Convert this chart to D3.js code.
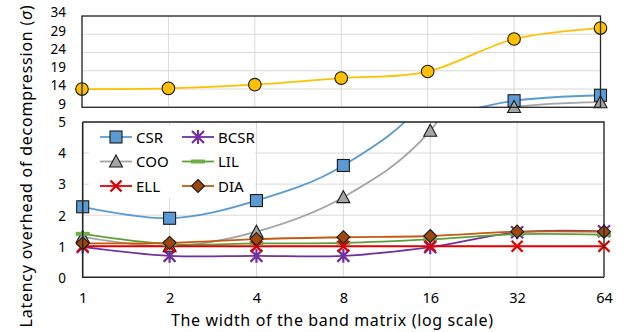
<!DOCTYPE html>
<html>
<head>
<meta charset="utf-8">
<script src="https://cdn.jsdelivr.net/npm/d3@7"></script>
<style>
  body { margin: 0; background: #fff; }
  svg { display: block; font-family: 'Noto Sans', sans-serif; }
</style>
</head>
<body>
<svg id="chart" width="629" height="332"></svg>
<script>
// MARK: data

const widths = [1, 2, 4, 8, 16, 32, 64]
const csr    = [2.27, 1.9, 2.47, 3.6, 5.9, 10.8, 12.3]
const bcsr   = [0.98, 0.69, 0.69, 0.69, 0.97, 1.45, 1.48]
const coo    = [1.3, 1.0, 1.47, 2.58, 4.72, 9.1, 10.4]
const lil    = [1.4, 1.07, 1.09, 1.11, 1.22, 1.39, 1.37]
const ell    = [1.0, 1.0, 1.0, 1.0, 1.0, 1.0, 1.0]
const dia    = [1.09, 1.11, 1.23, 1.29, 1.33, 1.47, 1.47]
const upper  = [14.0, 14.2, 15.2, 17.0, 18.8, 27.7, 30.7]   // yellow series, no legend entry

const topTicks    = [9, 14, 19, 24, 29, 34]
const bottomTicks = [0, 1, 2, 3, 4, 5]

const series = [
  { name: 'CSR',  values: csr,   color: '#5B9BD5', marker: 'square'   },
  { name: 'BCSR', values: bcsr,  color: '#7030A0', marker: 'asterisk' },
  { name: 'COO',  values: coo,   color: '#A5A5A5', marker: 'triangle' },
  { name: 'LIL',  values: lil,   color: '#5E9E3A', marker: 'dash'     },
  { name: 'ELL',  values: ell,   color: '#E00000', marker: 'cross'    },
  { name: 'DIA',  values: dia,   color: '#C55A11', marker: 'diamond'  },
  { name: null,   values: upper, color: '#FFC000', marker: 'circle'   },
]

const svg = d3.select('#chart')
const GRID = '#D9D9D9'
const FRAME = '#262626'

// draws one marker centred on (0,0) into g
function drawMarker(g, s) {
  const stroke = '#1a1a1a'
  switch (s.marker) {
    case 'square':
      g.append('rect').attr('x', -6).attr('y', -6).attr('width', 12).attr('height', 12)
        .attr('fill', s.color).attr('stroke', stroke).attr('stroke-width', 1.1)
      break
    case 'triangle':
      g.append('path').attr('d', 'M0,-6.5 L6.5,5.5 L-6.5,5.5 Z')
        .attr('fill', s.color).attr('stroke', stroke).attr('stroke-width', 1.1)
      break
    case 'circle':
      g.append('circle').attr('r', 6.3)
        .attr('fill', s.color).attr('stroke', stroke).attr('stroke-width', 1.1)
      break
    case 'diamond':
      g.append('path').attr('d', 'M0,-6.5 L6.5,0 L0,6.5 L-6.5,0 Z')
        .attr('fill', '#9E480E').attr('stroke', stroke).attr('stroke-width', 1.1)
      break
    case 'dash':
      g.append('rect').attr('x', -7).attr('y', -2).attr('width', 14).attr('height', 4)
        .attr('fill', '#70AD47')
      break
    case 'cross':
      g.append('path').attr('d', 'M-5.5,-5.5 L5.5,5.5 M5.5,-5.5 L-5.5,5.5')
        .attr('stroke', s.color).attr('stroke-width', 2.4).attr('fill', 'none')
      break
    case 'asterisk':
      g.append('path').attr('d', 'M-6,-6 L6,6 M6,-6 L-6,6 M0,-7 L0,7')
        .attr('stroke', s.color).attr('stroke-width', 2.2).attr('fill', 'none')
      break
  }
}

// MARK: one panel of the broken axis
function panel(id, xRange, yDomain, yRange, ticks, labelShift) {
  const x = d3.scalePoint().domain(widths).range(xRange)
  const y = d3.scaleLinear().domain(yDomain).range(yRange)
  const g = svg.append('g')

  svg.append('clipPath').attr('id', id)
    .append('rect')
    .attr('x', xRange[0]).attr('y', yRange[1])
    .attr('width', xRange[1] - xRange[0]).attr('height', yRange[0] - yRange[1])

  // grid
  g.selectAll('.hgrid').data(ticks).enter().append('line')
    .attr('x1', xRange[0]).attr('x2', xRange[1])
    .attr('y1', (d) => y(d)).attr('y2', (d) => y(d))
    .attr('stroke', GRID).attr('stroke-width', 1)
  g.selectAll('.vgrid').data(widths).enter().append('line')
    .attr('x1', (d) => x(d)).attr('x2', (d) => x(d))
    .attr('y1', yRange[0]).attr('y2', yRange[1])
    .attr('stroke', GRID).attr('stroke-width', 1)

  // y axis labels
  const axis = d3.axisLeft(y).tickValues(ticks).tickSize(0).tickPadding(0).tickFormat(d3.format('d'))
  const ax = g.append('g').attr('transform', `translate(66,${labelShift})`).call(axis)
  ax.select('.domain').remove()
  ax.selectAll('text').attr('font-size', 13.5).attr('fill', '#000')
    .attr('font-family', "'Noto Sans', sans-serif")

  return { x, y, g, id }
}

const top_    = panel('clipTop', [82, 600.5], [9, 34], [107.3, 16], topTicks, -3.5)
const bottom_ = panel('clipBottom', [82.7, 604], [0, 5], [277.3, 122], bottomTicks, 0.5)

// legend background sits under the series but above the grid
bottom_.g.append('rect')
  .attr('x', 89).attr('y', 126).attr('width', 166).attr('height', 72).attr('fill', '#fff')

for (const p of [top_, bottom_]) {
  const [lo, hi] = p.y.domain()
  const line = d3.line()
    .x((d, i) => p.x(widths[i]))
    .y((d) => p.y(d))
    .curve(d3.curveCardinal.tension(0))
  const lines = p.g.append('g').attr('clip-path', `url(#${p.id})`)
  const marks = p.g.append('g')
  series.forEach((s) => {
    lines.append('path').datum(s.values)
      .attr('d', line)
      .attr('fill', 'none').attr('stroke', s.color).attr('stroke-width', 1.8)
  })
  series.forEach((s) => {
    s.values.forEach((v, i) => {
      if (v < lo - 0.05 || v > hi + 0.05) return
      const m = marks.append('g').attr('transform', `translate(${p.x(widths[i])},${p.y(v)})`)
      drawMarker(m, s)
    })
  })
}

// frames
svg.append('rect').attr('x', 82).attr('y', 16).attr('width', 600.5 - 82).attr('height', 107.3 - 16)
  .attr('fill', 'none').attr('stroke', FRAME).attr('stroke-width', 1.3)
svg.append('path').attr('d', 'M82.7,122 H604 V277.3')
  .attr('fill', 'none').attr('stroke', FRAME).attr('stroke-width', 1.3)
svg.append('path').attr('d', 'M82.7,122 V277.3 H604')
  .attr('fill', 'none').attr('stroke', FRAME).attr('stroke-width', 1.6)

// x tick labels (bottom panel only)
const xAxis = d3.axisBottom(bottom_.x).tickSize(0).tickPadding(0)
const xg = svg.append('g').attr('transform', 'translate(0,293)').call(xAxis)
xg.select('.domain').remove()
xg.selectAll('text').attr('font-size', 14.5).attr('fill', '#000')
  .attr('font-family', "'Noto Sans', sans-serif")

// axis titles
svg.append('text')
  .attr('x', 332).attr('y', 326)
  .attr('text-anchor', 'middle').attr('font-size', 16)
  .attr('textLength', 322).attr('lengthAdjust', 'spacing')
  .text('The width of the band matrix (log scale)')
const yt = svg.append('text')
  .attr('transform', 'translate(32,166.5) rotate(-90)')
  .attr('text-anchor', 'middle').attr('font-size', 16)
  .attr('textLength', 322).attr('lengthAdjust', 'spacing')
yt.append('tspan').text('Latency overhead of decompression (')
yt.append('tspan').attr('font-style', 'italic').text('σ')
yt.append('tspan').text(')')

// MARK: legend
const legendSeries = series.filter((s) => s.name)
const legend = svg.append('g')
legendSeries.forEach((s, i) => {
  const col = i % 2, row = Math.floor(i / 2)
  const lx = col === 0 ? 100 : 182
  const ly = 137 + row * 24.5
  const item = legend.append('g').attr('transform', `translate(${lx},${ly})`)
  item.append('line').attr('x1', 0).attr('x2', 32).attr('y1', 0).attr('y2', 0)
    .attr('stroke', s.color).attr('stroke-width', 1.8)
  drawMarker(item.append('g').attr('transform', 'translate(16,0)'), s)
  item.append('text').attr('x', 36).attr('y', 5.5).attr('font-size', 15).text(s.name)
})
</script>
</body>
</html>
